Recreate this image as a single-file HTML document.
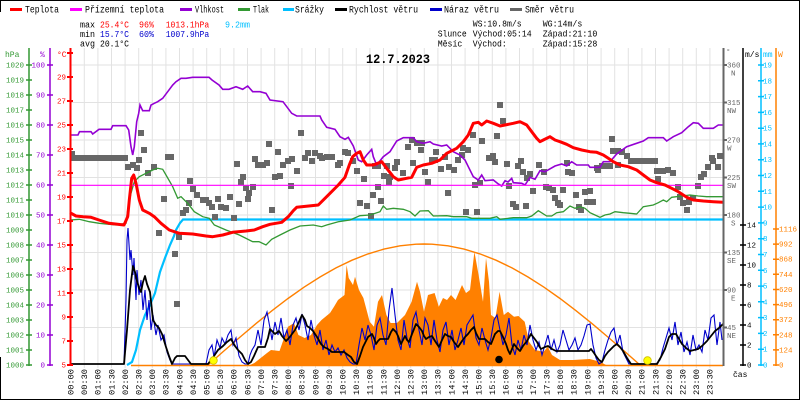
<!DOCTYPE html>
<html><head><meta charset="utf-8"><style>
html,body{margin:0;padding:0;background:#fff;}
svg{display:block;font-family:"Liberation Mono",monospace;}
</style></head><body>
<svg width="800" height="400" viewBox="0 0 800 400" xmlns="http://www.w3.org/2000/svg">
<rect x="0" y="0" width="800" height="400" fill="#fff"/>
<path d="M0.5 12V0.5H799.5V399.5H0.5V357" fill="none" stroke="#000" stroke-width="1"/>

<g stroke="#e2e2e2" stroke-width="1" fill="none">
<path d="M84.3 48V368M97.9 48V368M111.5 48V368M125.1 48V368M138.7 48V368M152.3 48V368M165.9 48V368M179.5 48V368M193.1 48V368M206.7 48V368M220.3 48V368M233.9 48V368M247.5 48V368M261.1 48V368M274.7 48V368M288.3 48V368M301.9 48V368M315.5 48V368M329.1 48V368M342.7 48V368M356.3 48V368M369.9 48V368M383.5 48V368M397.1 48V368M410.7 48V368M424.3 48V368M437.9 48V368M451.5 48V368M465.1 48V368M478.7 48V368M492.3 48V368M505.9 48V368M519.5 48V368M533.1 48V368M546.7 48V368M560.3 48V368M573.9 48V368M587.5 48V368M601.1 48V368M614.7 48V368M628.3 48V368M641.9 48V368M655.5 48V368M669.1 48V368M682.7 48V368M696.3 48V368M709.9 48V368"/>
<path d="M70 65H723M70 102.5H723M70 140H723M70 177.5H723M70 215H723M70 252.5H723M70 290H723M70 327.5H723"/>
</g>

<path fill="#ff8000" d="M250 365L254.4 363L267 353L271 350L279.5 351L288 326.7L294 323L298.4 335L304.7 338L311 335L317 325L321.5 320L330 313L334 306.7L338 300L344.5 295L346.6 265L348.7 278L353 285L355 276.7L359 290L363.4 298L369.7 321.7L374 326.7L378 301.7L382 295L386.4 315L390.6 323L397 323L405 315L411.6 301.7L417 281.7L420 291.7L424 311.7L428 295L434.6 293L438.8 306.7L443 298L447 300L451 295L455.6 300L462 285L466 293L470 290L474.4 251.7L478.6 275L483 301.7L486 258L489 281.7L491 315L495.4 318L499.6 291.7L503.8 315L508 311.7L514 316.7L518.5 316L524.7 321.7L529 341.7L535 350L543.6 351.7L547.8 346.7L552 355L560 360L573 360L589.7 359L600 361.7L606 365Z"/>
<path fill="none" stroke="#ff8000" stroke-width="1.5" d="M131 365.5H723"/>
<path fill="none" stroke="#ff8000" stroke-width="1.4" d="M208 365L224 350.9L240 337.1L256 323.6L272 310.7L288 298.5L304 287.2L320 277L336 267.9L352 260.2L368 253.9L384 249.1L400 245.8L416 244.2L424 244L432 244.2L448 245.8L464 249.1L480 253.9L496 260.2L512 267.9L528 277L544 287.2L560 298.5L576 310.7L592 323.6L608 337.1L624 350.9L640 365"/>

<path fill="none" stroke="#00bfff" stroke-width="2.2" d="M127 365L132 362L136 350L140 330L145 315L150 305L155 293L160 272L165 258L170 245L174 236L176 230L180 223L183 219.5L723 219.5"/>

<g fill="#676767">
<rect x="70" y="155" width="58" height="6"/><rect x="70" y="151" width="5" height="6"/><rect x="628" y="158" width="30" height="6"/>
<path d="M125 164h6v6h-6zM130 162h6v6h-6zM134 165h6v6h-6zM138 130h6v6h-6zM141 147h6v6h-6zM136 157h6v6h-6zM151 164h6v6h-6zM145 170h6v6h-6zM165 154h6v6h-6zM168 154h6v6h-6zM161 196h6v6h-6zM156 230h6v6h-6zM176 234h6v6h-6zM180 210h6v6h-6zM183 207h6v6h-6zM186 200h6v6h-6zM187 178h6v6h-6zM190 186h6v6h-6zM194 192h6v6h-6zM200 197h6v6h-6zM203 197h6v6h-6zM206 200h6v6h-6zM209 204h6v6h-6zM215 196h6v6h-6zM218 204h6v6h-6zM223 205h6v6h-6zM212 214h6v6h-6zM227 194h6v6h-6zM231 215h6v6h-6zM234 161h6v6h-6zM236 201h6v6h-6zM240 174h6v6h-6zM238 179h6v6h-6zM243 185h6v6h-6zM245 196h6v6h-6zM246 190h6v6h-6zM250 184h6v6h-6zM252 156h6v6h-6zM255 162h6v6h-6zM260 162h6v6h-6zM264 160h6v6h-6zM266 141h6v6h-6zM272 174h6v6h-6zM275 149h6v6h-6zM277 173h6v6h-6zM280 162h6v6h-6zM285 158h6v6h-6zM289 156h6v6h-6zM294 168h6v6h-6zM288 183h6v6h-6zM298 130h6v6h-6zM302 155h6v6h-6zM305 150h6v6h-6zM309 158h6v6h-6zM312 150h6v6h-6zM317 153h6v6h-6zM319 155h6v6h-6zM324 154h6v6h-6zM329 154h6v6h-6zM335 162h6v6h-6zM337 160h6v6h-6zM342 149h6v6h-6zM345 150h6v6h-6zM350 158h6v6h-6zM354 168h6v6h-6zM361 176h6v6h-6zM357 200h6v6h-6zM364 203h6v6h-6zM368 213h6v6h-6zM370 192h6v6h-6zM375 184h6v6h-6zM378 198h6v6h-6zM372 163h6v6h-6zM375 163h6v6h-6zM384 163h6v6h-6zM381 173h6v6h-6zM387 174h6v6h-6zM386 179h6v6h-6zM392 165h6v6h-6zM394 159h6v6h-6zM400 170h6v6h-6zM410 160h6v6h-6zM405 144h6v6h-6zM409 137h6v6h-6zM414 140h6v6h-6zM419 140h6v6h-6zM418 147h6v6h-6zM422 169h6v6h-6zM425 179h6v6h-6zM429 157h6v6h-6zM432 157h6v6h-6zM433 149h6v6h-6zM438 166h6v6h-6zM442 154h6v6h-6zM446 164h6v6h-6zM451 167h6v6h-6zM460 145h6v6h-6zM459 152h6v6h-6zM465 147h6v6h-6zM455 157h6v6h-6zM470 132h6v6h-6zM479 138h6v6h-6zM486 155h6v6h-6zM492 159h6v6h-6zM494 133h6v6h-6zM497 102h6v6h-6zM445 190h6v6h-6zM463 209h6v6h-6zM474 209h6v6h-6zM472 182h6v6h-6zM477 180h6v6h-6zM269 207h6v6h-6zM172 251h6v6h-6zM174 301h6v6h-6z"/>
<path d="M500 118h6v6h-6zM490 153h6v6h-6zM504 161h6v6h-6zM518 158h6v6h-6zM515 163h6v6h-6zM520 169h6v6h-6zM524 175h6v6h-6zM527 171h6v6h-6zM536 162h6v6h-6zM541 169h6v6h-6zM530 188h6v6h-6zM506 183h6v6h-6zM510 201h6v6h-6zM513 204h6v6h-6zM523 203h6v6h-6zM543 184h6v6h-6zM546 185h6v6h-6zM550 187h6v6h-6zM552 195h6v6h-6zM555 200h6v6h-6zM557 202h6v6h-6zM560 187h6v6h-6zM564 160h6v6h-6zM565 169h6v6h-6zM569 170h6v6h-6zM573 192h6v6h-6zM576 204h6v6h-6zM578 207h6v6h-6zM582 189h6v6h-6zM587 188h6v6h-6zM584 199h6v6h-6zM590 199h6v6h-6zM594 165h6v6h-6zM595 167h6v6h-6zM599 163h6v6h-6zM602 163h6v6h-6zM607 163h6v6h-6zM609 136h6v6h-6zM610 148h6v6h-6zM615 148h6v6h-6zM619 149h6v6h-6zM615 162h6v6h-6zM624 153h6v6h-6zM654 168h6v6h-6zM655 176h6v6h-6zM660 168h6v6h-6zM665 167h6v6h-6zM670 170h6v6h-6zM675 184h6v6h-6zM677 194h6v6h-6zM680 200h6v6h-6zM684 207h6v6h-6zM686 199h6v6h-6zM690 195h6v6h-6zM695 183h6v6h-6zM698 174h6v6h-6zM701 171h6v6h-6zM705 164h6v6h-6zM709 155h6v6h-6zM710 158h6v6h-6zM715 164h6v6h-6zM717 153h6v6h-6zM720 153h4v6h-4z"/>
</g>

<path fill="none" stroke="#339933" stroke-width="1.3" d="M70 220L79.3 219.3L89.3 221.7L99.3 223.3L116 225L126 223.3L127.7 210L131 193.3L134.3 181.7L139.3 176.7L146 173.3L152.7 170L157.7 168.3L162.7 169.3L166 175L172.7 186.7L177.7 198.3L181 196.7L187.7 203.3L194.3 211.7L202.7 216.7L209.3 218.3L214.3 225L226 230L239.3 235L252.7 241.7L259 241.7L266 245L271.7 239.3L280 235L290 230L300 226L313.3 225L321.7 226.7L326.7 225L338.3 221.7L350 220L360 215.7L370 215L380 211.7L383.3 206L386.7 209.3L393.3 208.3L403.3 209.3L410 211.7L415 216L420 211L428.3 210.7L433.3 216L446.7 215.7L453.3 216.7L466.7 216.7L471.7 218.3L490 218.3L496.7 216.7L500 219.3L513.3 217.7L526.7 217.7L531.7 216L538.3 210.7L546.7 216L551.7 216L556.7 212.7L563.3 211.7L570 206L575 208.3L580 206.7L585 208.3L590 212.7L595 215L600 217.3L605 215L610 214L615 211.7L623.3 212.7L630 213.3L636.7 214L643.3 206.7L653.3 205L658.3 202.7L663.3 200L666.7 201.7L671.7 197.3L681.7 196L690 195L698.3 196L706.7 196.7L723 196.7"/>

<path fill="none" stroke="#9400d3" stroke-width="1.6" d="M70 135L78 135L79.5 131.7L91 131.7L92.7 134L99 129.3L111 129.3L112.7 125.7L126 125.7L128.7 130L131 146.7L132.7 155L134.3 146.7L136.7 121.7L138.7 113.3L140 105L142.7 110.7L149.3 110.7L151 105L154.3 103.3L157.7 101.7L162.7 98.3L167.7 91.7L172.7 85L176 81.7L181 78.3L186 78.3L192.7 77.3L209 77.3L212 80L219 85L222.7 89.3L229 89.3L236 86.7L242.7 89.3L247.7 86L252.7 91.7L260 91.7L266 93.3L270 100L283 101.7L291.7 113.3L296.7 116L320 116L321.7 120L326.7 127.3L335 129.3L340 136.7L345 139.3L348.3 137.3L353.3 146L358.3 160L361.7 161.7L366.7 155L371.7 149.3L373.3 156.7L376.7 165L383.3 156.7L390 151.7L396.7 141L403.3 137.7L413.3 137.7L416.7 141.7L423.3 143.3L430 141.7L433.3 144L441.7 146L446.7 145L453.3 151.7L460 155L465 160L468.3 166.7L473.3 176.7L478.3 180L481.7 175L485 180.7L493.3 180L498.3 184L501.7 186L505 180.7L508 182L511.7 178.3L513.3 182.7L521.7 183.3L525 185L530 177.3L535 179.3L540 170.7L545 171.7L555 166L561.7 164L566.7 166L571.7 161.7L576.7 165L588.3 165L590 167.3L600 167.3L603.3 161.7L610 161.7L616.7 154L626.7 146.7L643.3 141L648.3 137.7L663.3 137.7L666.7 141L673.3 136.7L681.7 132.7L688.3 126.7L693.3 122.7L698.3 123.3L703.3 128.3L713.3 128.3L718.3 125L723 125"/>

<path fill="none" stroke="#ff00ff" stroke-width="1.2" d="M70 185.3H723"/>

<path fill="none" stroke="#ff0000" stroke-width="3" stroke-linejoin="round" d="M70 212.7L76 216L83 216.7L91 217.3L99 220L109 223.3L124 225L127.7 216.7L129.3 200L131.7 178.3L133.7 175L136 183.3L139.3 200L142.7 210L149.3 213.3L154.3 216.7L161 223.3L169.3 230L179.3 233.3L192.7 234L206 236L212.7 236.7L222.7 235L232.7 232.3L246 231L254.3 230L262.7 226.7L270 224.3L281.7 222.3L288.3 216.7L293.3 210.7L296.7 207.3L318.3 205L325 198.3L330 193.3L338.3 185L345 177.3L349.3 165L352.7 156.7L356.7 153.3L360 151.7L363.3 160L366.7 165L373.3 165L381.7 161.7L386.7 168.3L393.3 176.7L398.3 180L406.7 178.3L411.7 177.3L416.7 167.3L423.3 165L431.7 163.3L440 160L446.7 153.3L456.7 148.3L463.3 141.7L468.3 135L473.3 123.3L478.3 122.3L481.7 125L486.7 121L493.3 123.3L500 126L505 125L513.3 123.3L520 121.7L526.7 125L531.7 131.7L536.7 138.3L540 141.7L543.3 140L550 136.7L555 140L560 141.7L566.7 144.3L573.3 147.7L581.7 150L590 151.7L596.7 152.3L603.3 155L608.3 158.3L613.3 161.7L620 165L628.3 166.7L636.7 170L643.3 175L650 180L656.7 182.7L665 185L671.7 188.3L678.3 191.7L686.7 197.3L693.3 200L703.3 201L713.3 201.7L723 202.3"/>

<path fill="none" stroke="#0000cc" stroke-width="1.1" d="M124 364L126 300L127 240L128 228L130 260L131 250L133 275L134 258L136 300L137 270L139 295L141 280L143 310L145 290L147 320L149 300L151 330L153 315L156 335L158 325L161 340L164 335L167 352L170 360L172 364L206 364L209 350L212 345L214 357L217 340L220 348L222 338L225 344L228 335L231 330L233 345L236 338L239 356L242 362L245 364L248 364L250 355L252 350L255 345L258 330L261 345L264 320L267 312L270 328L272 340L275 322L278 335L281 318L284 338L287 330L290 345L293 325L296 318L299 330L302 314L305 325L308 340L311 320L314 335L317 345L320 330L323 350L326 340L329 355L332 345L335 352L338 348L341 355L344 350L347 358L350 362L353 364L356 364L359 345L362 328L365 340L368 325L371 335L374 350L377 325L380 318L383 335L386 345L389 310L392 288L395 315L398 340L401 350L404 320L407 338L410 348L413 320L416 312L419 330L422 345L425 318L428 325L431 345L434 320L437 340L440 352L443 330L446 322L449 345L452 330L455 350L458 340L461 328L464 345L467 325L470 320L473 315L476 338L479 345L482 328L485 340L488 350L491 338L494 320L497 315L500 330L503 345L506 335L509 318L512 345L515 355L518 340L521 350L524 335L527 345L530 325L533 340L536 350L539 342L542 355L545 345L548 335L551 350L554 340L557 352L560 345L563 330L566 340L569 350L572 345L575 338L578 350L581 345L584 336L587 325L590 324L593 345L596 358L599 364L602 362L605 350L608 340L611 332L614 328L617 345L620 335L623 352L626 358L629 364L656 364L660 360L663 348L666 338L669 328L672 340L675 322L678 345L681 332L684 352L687 342L690 355L693 335L696 350L699 345L702 352L705 330L708 340L711 318L714 315L717 345L720 322L722 340"/>

<path fill="none" stroke="#000" stroke-width="1.8" stroke-linejoin="round" d="M70 364L124 364L127 330L130 290L133 266L135 272L137 281L139 288L141 292L143 282L145 276L147 284L150 292L153 320L156 325L159 328L162 334L166 347L169 356L172 364L175 358L177 356L185 356L188 360L191 364L208 364L211 360L214 356L218 350L223 346L227 342L231 339L235 346L238 350L242 354L245 360L248 364L251 362L254 356L258 347L265 347L268 338L270 329L273 332L275 334L279 331L282 336L286 341L289 338L292 334L295 330L298 324L302 315L305 320L307 326L310 328L313 331L317 337L321 344L324 347L328 349L332 352L344 352L348 355L351 357L354 362L357 364L360 356L363 347L366 341L368 337L372 334L374 338L376 344L378 341L380 339L388 339L391 332L393 329L396 332L398 336L401 344L403 340L405 336L407 340L409 342L412 334L416 324L419 327L422 331L424 336L426 339L429 337L432 336L435 341L439 347L442 340L445 334L448 336L451 337L454 342L458 347L460 344L462 341L465 337L468 334L471 330L474 327L476 333L479 339L485 339L488 342L491 344L493 339L495 334L498 331L500 331L503 337L506 344L508 350L510 354L512 349L514 344L517 348L520 351L523 346L527 341L531 334L534 338L537 342L539 346L541 349L545 347L548 346L552 349L556 351L589 351L591 349L594 353L596 356L599 360L602 362L605 356L608 352L611 349L614 346L617 344L620 347L623 351L627 358L631 364L657 364L661 357L665 349L669 337L672 334L676 334L679 339L682 344L686 348L690 351L694 350L698 349L702 346L707 341L711 336L715 331L719 328L723 324"/>

<circle cx="213.5" cy="360.5" r="3.8" fill="#ffff00" stroke="#d0c000" stroke-width="0.8"/>
<circle cx="647.5" cy="360.5" r="3.8" fill="#ffff00" stroke="#d0c000" stroke-width="0.8"/>
<circle cx="499" cy="359.5" r="3.8" fill="#000"/>

<g fill="none" stroke-width="1.5">
<path stroke="#339933" d="M29 48V366M26 365H32M26 350H32M26 335H32M26 320H32M26 305H32M26 290H32M26 275H32M26 260H32M26 245H32M26 230H32M26 215H32M26 200H32M26 185H32M26 170H32M26 155H32M26 140H32M26 125H32M26 110H32M26 95H32M26 80H32M26 65H32"/>
<path stroke="#9400d3" d="M50 48V366M47 365H53M47 335H53M47 305H53M47 275H53M47 245H53M47 215H53M47 185H53M47 155H53M47 125H53M47 95H53M47 65H53"/>
<path stroke="#ff0000" stroke-width="2" d="M70.5 48V366M67 365H73M67 341H73M67 317H73M67 293H73M67 269H73M67 245H73M67 221H73M67 197H73M67 173H73M67 149H73M67 125H73M67 101H73M67 77H73M67 53H73"/>
</g>
<g font-size="7.5" text-anchor="end" fill="#339933">
<text x="24" y="367.5">1000</text><text x="24" y="352.5">1001</text><text x="24" y="337.5">1002</text><text x="24" y="322.5">1003</text><text x="24" y="307.5">1004</text><text x="24" y="292.5">1005</text><text x="24" y="277.5">1006</text><text x="24" y="262.5">1007</text><text x="24" y="247.5">1008</text><text x="24" y="232.5">1009</text><text x="24" y="217.5">1010</text><text x="24" y="202.5">1011</text><text x="24" y="187.5">1012</text><text x="24" y="172.5">1013</text><text x="24" y="157.5">1014</text><text x="24" y="142.5">1015</text><text x="24" y="127.5">1016</text><text x="24" y="112.5">1017</text><text x="24" y="97.5">1018</text><text x="24" y="82.5">1019</text><text x="24" y="67.5">1020</text>
</g>
<g font-size="7.5" text-anchor="end" fill="#9400d3">
<text x="45" y="367.5">0</text><text x="45" y="337.5">10</text><text x="45" y="307.5">20</text><text x="45" y="277.5">30</text><text x="45" y="247.5">40</text><text x="45" y="217.5">50</text><text x="45" y="187.5">60</text><text x="45" y="157.5">70</text><text x="45" y="127.5">80</text><text x="45" y="97.5">90</text><text x="45" y="67.5">100</text>
</g>
<g font-size="7.5" text-anchor="end" fill="#ff0000">
<text x="66" y="367.5">5</text><text x="66" y="343.5">7</text><text x="66" y="319.5">9</text><text x="66" y="295.5">11</text><text x="66" y="271.5">13</text><text x="66" y="247.5">15</text><text x="66" y="223.5">17</text><text x="66" y="199.5">19</text><text x="66" y="175.5">21</text><text x="66" y="151.5">23</text><text x="66" y="127.5">25</text><text x="66" y="103.5">27</text><text x="66" y="79.5">29</text>
</g>
<g font-size="8">
<text x="5" y="57" fill="#339933">hPa</text>
<text x="40" y="57" fill="#9400d3">%</text>
<text x="57" y="57" fill="#ff0000">°C</text>
</g>

<g fill="none" stroke-width="1.5">
<path stroke="#666" stroke-width="2" d="M723.5 48V366M723 327.5H727M723 290H727M723 252.5H727M723 215H727M723 177.5H727M723 140H727M723 102.5H727M723 65H727"/>
<path stroke="#000" d="M743 48V366M740 365H746M740 345H746M740 325H746M740 305H746M740 285H746M740 265H746M740 245H746M740 225H746"/>
<path stroke="#00bfff" d="M761 48V366M758 365H764M758 349.2H764M758 333.4H764M758 317.6H764M758 301.8H764M758 286.1H764M758 270.3H764M758 254.5H764M758 238.7H764M758 222.9H764M758 207.1H764M758 191.3H764M758 175.5H764M758 159.7H764M758 143.9H764M758 128.2H764M758 112.4H764M758 96.6H764M758 80.8H764M758 65H764"/>
<path stroke="#ff8000" d="M776 48V366M773 365H779M773 349.9H779M773 334.8H779M773 319.7H779M773 304.6H779M773 289.5H779M773 274.3H779M773 259.2H779M773 244.1H779M773 229H779"/>
</g>
<g font-size="7.5" fill="#666">
<text x="727" y="67.5">360</text><text x="731" y="75.7">N</text>
<text x="727" y="105">315</text><text x="727" y="113.2">NW</text>
<text x="727" y="142.5">270</text><text x="727" y="150.7">W</text>
<text x="727" y="180">225</text><text x="727" y="188.2">SW</text>
<text x="727" y="217.5">180</text><text x="731" y="225.7">S</text>
<text x="727" y="255">135</text><text x="727" y="263.2">SE</text>
<text x="727" y="292.5">90</text><text x="731" y="300.7">E</text>
<text x="727" y="330">45</text><text x="727" y="338.2">NE</text>
<text x="726" y="54">°</text>
</g>
<g font-size="7.5" fill="#000">
<text x="747" y="367.5">0</text><text x="747" y="347.5">2</text><text x="747" y="327.5">4</text><text x="747" y="307.5">6</text><text x="747" y="287.5">8</text><text x="747" y="267.5">10</text><text x="747" y="247.5">12</text><text x="747" y="227.5">14</text>
</g>
<g font-size="7.5" fill="#00bfff">
<text x="763" y="367.5">0</text><text x="763" y="351.7">1</text><text x="763" y="335.9">2</text><text x="763" y="320.1">3</text><text x="763" y="304.3">4</text><text x="763" y="288.6">5</text><text x="763" y="272.8">6</text><text x="763" y="257">7</text><text x="763" y="241.2">8</text><text x="763" y="225.4">9</text><text x="763" y="209.6">10</text><text x="763" y="193.8">11</text><text x="763" y="178">12</text><text x="763" y="162.2">13</text><text x="763" y="146.4">14</text><text x="763" y="130.7">15</text><text x="763" y="114.9">16</text><text x="763" y="99.1">17</text><text x="763" y="83.3">18</text><text x="763" y="67.5">19</text>
</g>
<g font-size="7.5" fill="#ff8000">
<text x="779" y="367.5">0</text><text x="779" y="352.4">124</text><text x="779" y="337.3">248</text><text x="779" y="322.2">372</text><text x="779" y="307.1">496</text><text x="779" y="292">620</text><text x="779" y="276.8">744</text><text x="779" y="261.7">868</text><text x="779" y="246.6">992</text><text x="779" y="231.5">1116</text>
</g>
<g font-size="8">
<text x="745" y="57" fill="#000">m/s</text>
<text x="763" y="57" fill="#00bfff">mm</text>
<text x="778" y="57" fill="#ff8000">W</text>
<text x="733" y="377" fill="#000">čas</text>
</g>

<g font-size="8" fill="#000">
<text transform="translate(73.5,395) rotate(-90)" textLength="26" lengthAdjust="spacingAndGlyphs">00:00</text>
<text transform="translate(87.1,395) rotate(-90)" textLength="26" lengthAdjust="spacingAndGlyphs">00:30</text>
<text transform="translate(100.7,395) rotate(-90)" textLength="26" lengthAdjust="spacingAndGlyphs">01:00</text>
<text transform="translate(114.3,395) rotate(-90)" textLength="26" lengthAdjust="spacingAndGlyphs">01:30</text>
<text transform="translate(127.9,395) rotate(-90)" textLength="26" lengthAdjust="spacingAndGlyphs">02:00</text>
<text transform="translate(141.5,395) rotate(-90)" textLength="26" lengthAdjust="spacingAndGlyphs">02:30</text>
<text transform="translate(155.1,395) rotate(-90)" textLength="26" lengthAdjust="spacingAndGlyphs">03:00</text>
<text transform="translate(168.7,395) rotate(-90)" textLength="26" lengthAdjust="spacingAndGlyphs">03:30</text>
<text transform="translate(182.3,395) rotate(-90)" textLength="26" lengthAdjust="spacingAndGlyphs">04:00</text>
<text transform="translate(195.9,395) rotate(-90)" textLength="26" lengthAdjust="spacingAndGlyphs">04:30</text>
<text transform="translate(209.5,395) rotate(-90)" textLength="26" lengthAdjust="spacingAndGlyphs">05:00</text>
<text transform="translate(223.1,395) rotate(-90)" textLength="26" lengthAdjust="spacingAndGlyphs">05:30</text>
<text transform="translate(236.7,395) rotate(-90)" textLength="26" lengthAdjust="spacingAndGlyphs">06:00</text>
<text transform="translate(250.3,395) rotate(-90)" textLength="26" lengthAdjust="spacingAndGlyphs">06:30</text>
<text transform="translate(263.9,395) rotate(-90)" textLength="26" lengthAdjust="spacingAndGlyphs">07:00</text>
<text transform="translate(277.5,395) rotate(-90)" textLength="26" lengthAdjust="spacingAndGlyphs">07:30</text>
<text transform="translate(291.1,395) rotate(-90)" textLength="26" lengthAdjust="spacingAndGlyphs">08:00</text>
<text transform="translate(304.7,395) rotate(-90)" textLength="26" lengthAdjust="spacingAndGlyphs">08:30</text>
<text transform="translate(318.3,395) rotate(-90)" textLength="26" lengthAdjust="spacingAndGlyphs">09:00</text>
<text transform="translate(331.9,395) rotate(-90)" textLength="26" lengthAdjust="spacingAndGlyphs">09:30</text>
<text transform="translate(345.5,395) rotate(-90)" textLength="26" lengthAdjust="spacingAndGlyphs">10:00</text>
<text transform="translate(359.1,395) rotate(-90)" textLength="26" lengthAdjust="spacingAndGlyphs">10:30</text>
<text transform="translate(372.7,395) rotate(-90)" textLength="26" lengthAdjust="spacingAndGlyphs">11:00</text>
<text transform="translate(386.3,395) rotate(-90)" textLength="26" lengthAdjust="spacingAndGlyphs">11:30</text>
<text transform="translate(399.9,395) rotate(-90)" textLength="26" lengthAdjust="spacingAndGlyphs">12:00</text>
<text transform="translate(413.5,395) rotate(-90)" textLength="26" lengthAdjust="spacingAndGlyphs">12:30</text>
<text transform="translate(427.1,395) rotate(-90)" textLength="26" lengthAdjust="spacingAndGlyphs">13:00</text>
<text transform="translate(440.7,395) rotate(-90)" textLength="26" lengthAdjust="spacingAndGlyphs">13:30</text>
<text transform="translate(454.3,395) rotate(-90)" textLength="26" lengthAdjust="spacingAndGlyphs">14:00</text>
<text transform="translate(467.9,395) rotate(-90)" textLength="26" lengthAdjust="spacingAndGlyphs">14:30</text>
<text transform="translate(481.5,395) rotate(-90)" textLength="26" lengthAdjust="spacingAndGlyphs">15:00</text>
<text transform="translate(495.1,395) rotate(-90)" textLength="26" lengthAdjust="spacingAndGlyphs">15:30</text>
<text transform="translate(508.7,395) rotate(-90)" textLength="26" lengthAdjust="spacingAndGlyphs">16:00</text>
<text transform="translate(522.3,395) rotate(-90)" textLength="26" lengthAdjust="spacingAndGlyphs">16:30</text>
<text transform="translate(535.9,395) rotate(-90)" textLength="26" lengthAdjust="spacingAndGlyphs">17:00</text>
<text transform="translate(549.5,395) rotate(-90)" textLength="26" lengthAdjust="spacingAndGlyphs">17:30</text>
<text transform="translate(563.1,395) rotate(-90)" textLength="26" lengthAdjust="spacingAndGlyphs">18:00</text>
<text transform="translate(576.7,395) rotate(-90)" textLength="26" lengthAdjust="spacingAndGlyphs">18:30</text>
<text transform="translate(590.3,395) rotate(-90)" textLength="26" lengthAdjust="spacingAndGlyphs">19:00</text>
<text transform="translate(603.9,395) rotate(-90)" textLength="26" lengthAdjust="spacingAndGlyphs">19:30</text>
<text transform="translate(617.5,395) rotate(-90)" textLength="26" lengthAdjust="spacingAndGlyphs">20:00</text>
<text transform="translate(631.1,395) rotate(-90)" textLength="26" lengthAdjust="spacingAndGlyphs">20:30</text>
<text transform="translate(644.7,395) rotate(-90)" textLength="26" lengthAdjust="spacingAndGlyphs">21:00</text>
<text transform="translate(658.3,395) rotate(-90)" textLength="26" lengthAdjust="spacingAndGlyphs">21:30</text>
<text transform="translate(671.9,395) rotate(-90)" textLength="26" lengthAdjust="spacingAndGlyphs">22:00</text>
<text transform="translate(685.5,395) rotate(-90)" textLength="26" lengthAdjust="spacingAndGlyphs">22:30</text>
<text transform="translate(699.1,395) rotate(-90)" textLength="26" lengthAdjust="spacingAndGlyphs">23:00</text>
<text transform="translate(712.7,395) rotate(-90)" textLength="26" lengthAdjust="spacingAndGlyphs">23:30</text>
</g>

<rect x="10" y="8" width="12" height="3" fill="#ff0000"/>
<rect x="70" y="8" width="12" height="3" fill="#ff00ff"/>
<rect x="180" y="8" width="12" height="3" fill="#9400d3"/>
<rect x="238" y="8" width="12" height="3" fill="#339933"/>
<rect x="283" y="8" width="11" height="3" fill="#00bfff"/>
<rect x="335" y="8" width="12" height="3" fill="#000"/>
<rect x="430" y="8" width="12" height="3" fill="#0000cc"/>
<rect x="510" y="8" width="12" height="3" fill="#666"/>
<g font-size="10" fill="#000">
<text x="25" y="12.7" textLength="34" lengthAdjust="spacingAndGlyphs">Teplota</text>
<text x="85" y="12.7" textLength="79" lengthAdjust="spacingAndGlyphs">Přízemní teplota</text>
<text x="195" y="12.7" textLength="29" lengthAdjust="spacingAndGlyphs">Vlhkost</text>
<text x="253" y="12.7" textLength="16" lengthAdjust="spacingAndGlyphs">Tlak</text>
<text x="295" y="12.7" textLength="29" lengthAdjust="spacingAndGlyphs">Srážky</text>
<text x="349" y="12.7" textLength="69" lengthAdjust="spacingAndGlyphs">Rychlost větru</text>
<text x="444" y="12.7" textLength="55" lengthAdjust="spacingAndGlyphs">Náraz větru</text>
<text x="525" y="12.7" textLength="49" lengthAdjust="spacingAndGlyphs">Směr větru</text>
</g>

<g font-size="9.5">
<text x="80" y="27.3" textLength="15" lengthAdjust="spacingAndGlyphs" fill="#000">max</text>
<text x="100" y="27.3" textLength="29" lengthAdjust="spacingAndGlyphs" fill="#ff0000">25.4°C</text>
<text x="139" y="27.3" textLength="15" lengthAdjust="spacingAndGlyphs" fill="#ff0000">96%</text>
<text x="165.7" y="27.3" textLength="43.5" lengthAdjust="spacingAndGlyphs" fill="#ff0000">1013.1hPa</text>
<text x="225" y="27.3" textLength="25" lengthAdjust="spacingAndGlyphs" fill="#00bfff">9.2mm</text>
<text x="80" y="37" textLength="15" lengthAdjust="spacingAndGlyphs" fill="#000">min</text>
<text x="100" y="37" textLength="29" lengthAdjust="spacingAndGlyphs" fill="#0000cc">15.7°C</text>
<text x="139" y="37" textLength="15" lengthAdjust="spacingAndGlyphs" fill="#0000cc">60%</text>
<text x="165.7" y="37" textLength="43.5" lengthAdjust="spacingAndGlyphs" fill="#0000cc">1007.9hPa</text>
<text x="80" y="46.7" textLength="15" lengthAdjust="spacingAndGlyphs" fill="#000">avg</text>
<text x="100" y="46.7" textLength="29" lengthAdjust="spacingAndGlyphs" fill="#000">20.1°C</text>
<text x="472.7" y="26.7" textLength="49" lengthAdjust="spacingAndGlyphs" fill="#000">WS:10.8m/s</text>
<text x="542.7" y="26.7" textLength="39.6" lengthAdjust="spacingAndGlyphs" fill="#000">WG:14m/s</text>
<text x="437.7" y="36.7" textLength="29" lengthAdjust="spacingAndGlyphs" fill="#000">Slunce</text>
<text x="472.7" y="36.7" textLength="59" lengthAdjust="spacingAndGlyphs" fill="#000">Východ:05:14</text>
<text x="542.7" y="36.7" textLength="54.6" lengthAdjust="spacingAndGlyphs" fill="#000">Západ:21:10</text>
<text x="437.7" y="46.7" textLength="24.6" lengthAdjust="spacingAndGlyphs" fill="#000">Měsíc</text>
<text x="472.7" y="46.7" textLength="34" lengthAdjust="spacingAndGlyphs" fill="#000">Východ:</text>
<text x="542.7" y="46.7" textLength="54.6" lengthAdjust="spacingAndGlyphs" fill="#000">Západ:15:28</text>
</g>

<text x="366" y="63" font-size="13" font-weight="bold" fill="#000" textLength="64" lengthAdjust="spacingAndGlyphs">12.7.2023</text>
</svg>
</body></html>
